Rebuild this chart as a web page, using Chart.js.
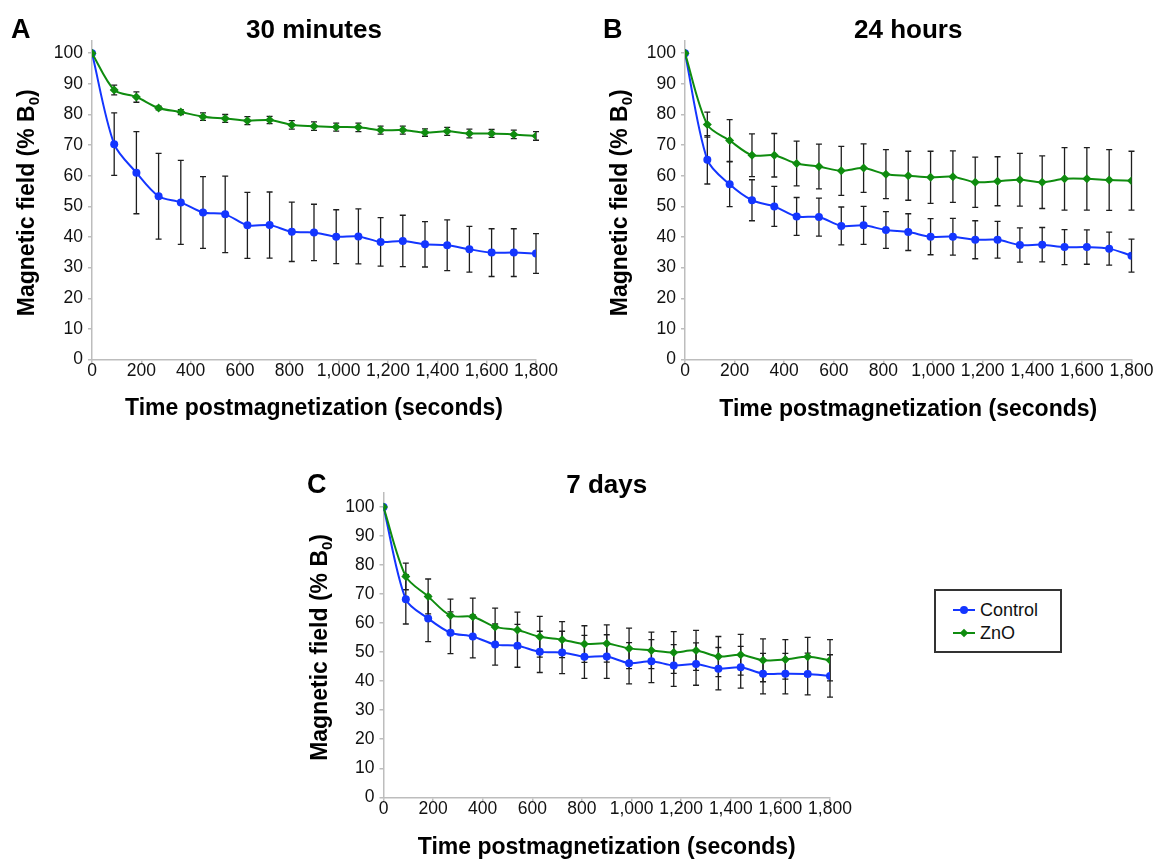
<!DOCTYPE html>
<html>
<head>
<meta charset="utf-8">
<script src="https://cdn.jsdelivr.net/npm/chart.js@4.4.1/dist/chart.umd.min.js"></script>
<style>
  html, body { margin: 0; padding: 0; background: #fff; }
  body { width: 1156px; height: 861px; position: relative; overflow: hidden; font-family: 'Liberation Sans', Arial, sans-serif; }
  canvas { position: absolute; }
  #legend { position: absolute; left: 934px; top: 589px; width: 128px; height: 64px; box-sizing: border-box; border: 2px solid #333; background: #fff; }
  .item { position: absolute; left: 0; height: 22px; width: 124px; }
  .item .ln { position: absolute; left: 17px; width: 22px; height: 2px; top: 10px; }
  .item .mk { position: absolute; }
  .item .tx { position: absolute; left: 44px; top: 0; font-size: 18px; line-height: 22px; color: #111; }
</style>
</head>
<body>
<canvas id="chartA" width="578" height="430" style="left:0px;top:0px;"></canvas>
<canvas id="chartB" width="578" height="430" style="left:578px;top:0px;"></canvas>
<canvas id="chartC" width="600" height="421" style="left:290px;top:440px;"></canvas>
<div id="legend">
  <div class="item" style="top:8px;">
    <span class="ln" style="background:#1436ff;"></span>
    <span class="mk" style="left:24px;top:7px;width:8px;height:8px;border-radius:50%;background:#1436ff;"></span>
    <span class="tx">Control</span>
  </div>
  <div class="item" style="top:31px;">
    <span class="ln" style="background:#0f8c0f;"></span>
    <span class="mk" style="left:25px;top:8px;width:6px;height:6px;transform:rotate(45deg);background:#0f8c0f;"></span>
    <span class="tx">ZnO</span>
  </div>
</div>
<script>
// ---------- data ----------
const times = [0, 90, 180, 270, 360, 450, 540, 630, 720, 810, 900, 990, 1080, 1170, 1260, 1350, 1440, 1530, 1620, 1710, 1800];
const xTickValues = [0, 200, 400, 600, 800, 1000, 1200, 1400, 1600, 1800];
const yTickValues = [0, 10, 20, 30, 40, 50, 60, 70, 80, 90, 100];
const seriesNames = ['Control', 'ZnO'];

// A: 30 minutes
const controlA    = [100, 70.3, 61.0, 53.3, 51.3, 48.0, 47.4, 43.8, 43.9, 41.7, 41.5, 40.1, 40.2, 38.4, 38.7, 37.6, 37.3, 36.0, 34.9, 34.9, 34.6];
const controlAErr = [0, 10.2, 13.4, 14.0, 13.7, 11.7, 12.5, 10.8, 10.8, 9.7, 9.2, 8.8, 9.0, 7.9, 8.4, 7.4, 8.3, 7.5, 7.8, 7.8, 6.5];
const znoA        = [100, 88.0, 85.7, 82.1, 80.8, 79.3, 78.7, 78.0, 78.2, 76.6, 76.2, 75.9, 75.8, 74.9, 74.9, 74.1, 74.5, 73.8, 73.8, 73.5, 73.0];
const znoAErr     = [0, 1.6, 1.7, 0.6, 0.8, 1.2, 1.3, 1.3, 1.2, 1.4, 1.4, 1.3, 1.4, 1.3, 1.3, 1.2, 1.3, 1.4, 1.3, 1.4, 1.4];

// B: 24 hours
const controlB    = [100, 65.2, 57.2, 52.0, 50.0, 46.7, 46.5, 43.6, 43.8, 42.3, 41.6, 40.1, 40.1, 39.1, 39.1, 37.4, 37.5, 36.7, 36.7, 36.2, 33.9];
const controlBErr = [0, 7.9, 7.3, 6.7, 6.5, 6.2, 6.2, 6.2, 6.2, 6.0, 6.0, 5.9, 6.0, 6.2, 6.0, 5.6, 5.6, 5.7, 5.6, 5.4, 5.4];
const znoB        = [100, 76.7, 71.5, 66.7, 66.7, 64.0, 63.0, 61.6, 62.5, 60.5, 60.0, 59.5, 59.7, 57.9, 58.2, 58.7, 57.9, 59.0, 59.0, 58.6, 58.4];
const znoBErr     = [0, 4.1, 6.8, 7.0, 7.1, 7.3, 7.3, 8.0, 7.9, 8.0, 8.0, 8.5, 8.4, 8.2, 8.0, 8.6, 8.6, 10.2, 10.2, 9.9, 9.6];

// C: 7 days
const controlC    = [100, 68.2, 61.6, 56.7, 55.4, 52.6, 52.2, 50.1, 49.9, 48.4, 48.5, 46.2, 46.9, 45.4, 45.9, 44.3, 44.8, 42.6, 42.6, 42.5, 41.8];
const controlCErr = [0, 8.5, 8.0, 7.2, 7.4, 7.1, 7.4, 7.1, 7.3, 7.4, 7.5, 7.1, 7.4, 7.2, 7.3, 7.3, 7.2, 7.0, 7.0, 7.2, 7.3];
const znoC        = [100, 76.1, 69.2, 62.6, 62.2, 58.7, 57.6, 55.3, 54.3, 52.8, 53.0, 51.3, 50.6, 49.9, 50.6, 48.5, 49.1, 47.2, 47.5, 48.4, 47.2];
const znoCErr     = [0, 4.6, 6.0, 5.7, 6.4, 6.5, 6.2, 7.0, 6.2, 6.3, 6.4, 7.0, 6.3, 7.2, 6.9, 6.9, 7.0, 7.4, 6.8, 6.7, 7.1];

// ---------- style ----------
const BLUE = '#1436ff';
const GREEN = '#0f8c0f';
const FONT = "'Liberation Sans', Arial, sans-serif";
const AXIS_COLOR = '#bdbdbd';

// error bar plugin (uses chart scales)
const errorBars = {
  id: 'errorBars',
  beforeDatasetsDraw(chart) {
    const ctx = chart.ctx, xs = chart.scales.x, ys = chart.scales.y;
    chart.data.datasets.forEach(ds => {
      if (!ds.errors) return;
      ctx.save();
      ctx.strokeStyle = '#1e1e1e';
      ctx.lineWidth = 1.3;
      ds.data.forEach((pt, i) => {
        const e = ds.errors[i];
        if (!e) return;
        const px = xs.getPixelForValue(pt.x);
        const top = ys.getPixelForValue(pt.y + e);
        const bot = ys.getPixelForValue(pt.y - e);
        ctx.beginPath();
        ctx.moveTo(px, top); ctx.lineTo(px, bot);
        ctx.moveTo(px - 3, top); ctx.lineTo(px + 3, top);
        ctx.moveTo(px - 3, bot); ctx.lineTo(px + 3, bot);
        ctx.stroke();
      });
      ctx.restore();
    });
  }
};

// panel texts plugin
const panelText = {
  id: 'panelText',
  afterDraw(chart, args, o) {
    const ctx = chart.ctx, ca = chart.chartArea;
    const cx = (ca.left + ca.right) / 2;
    ctx.save();
    ctx.fillStyle = '#000';
    ctx.textBaseline = 'alphabetic';
    // panel letter
    ctx.font = 'bold 27px ' + FONT;
    ctx.textAlign = 'left';
    ctx.fillText(o.letter, o.letterX, o.letterY);
    // title
    ctx.font = 'bold 26px ' + FONT;
    ctx.textAlign = 'center';
    ctx.fillText(o.title, cx, o.titleY);
    // x title
    ctx.font = 'bold 23px ' + FONT;
    ctx.fillText('Time postmagnetization (seconds)', cx, o.xTitleY);
    // y title with subscript
    const cy = (ca.top + 5 + ca.bottom) / 2;
    ctx.translate(o.yTitleX, cy);
    ctx.rotate(-Math.PI / 2);
    ctx.textAlign = 'left';
    const mainFont = 'bold 23px ' + FONT, subFont = 'bold 15px ' + FONT;
    ctx.font = mainFont;
    const p1 = 'Magnetic field (% B', p3 = ')';
    const w1 = ctx.measureText(p1).width, w3 = ctx.measureText(p3).width;
    ctx.font = subFont;
    const w2 = ctx.measureText('0').width;
    let x0 = -(w1 + w2 + w3) / 2;
    ctx.font = mainFont; ctx.fillText(p1, x0, 0);
    ctx.font = subFont; ctx.fillText('0', x0 + w1, 5);
    ctx.font = mainFont; ctx.fillText(p3, x0 + w1 + w2, 0);
    ctx.restore();
  }
};

function pts(vals) { return vals.map((v, i) => ({ x: times[i], y: v })); }

function makeChart(id, ctrl, ctrlErr, zno, znoErr, geo, text) {
  return new Chart(document.getElementById(id), {
    type: 'line',
    data: {
      datasets: [
        { label: seriesNames[0], data: pts(ctrl), errors: ctrlErr, borderColor: BLUE, backgroundColor: BLUE,
          borderWidth: 2, pointStyle: 'circle', pointRadius: 4, pointBorderWidth: 0, tension: 0.3, order: 1 },
        { label: seriesNames[1], data: pts(zno), errors: znoErr, borderColor: GREEN, backgroundColor: GREEN,
          borderWidth: 2, pointStyle: 'rectRot', pointRadius: 4.5, pointBorderWidth: 0, tension: 0.3, order: 0 }
      ]
    },
    options: {
      responsive: false,
      animation: false,
      layout: { padding: { left: 0, top: geo.top, right: geo.right, bottom: 0 } },
      plugins: { legend: { display: false }, title: { display: false }, tooltip: { enabled: false }, panelText: text },
      scales: {
        x: {
          type: 'linear', min: 0, max: 1800, offset: false,
          afterBuildTicks: s => { s.ticks = xTickValues.map(v => ({ value: v })); },
          afterFit: s => { s.height = geo.xh; },
          grid: { display: true, drawOnChartArea: false, drawTicks: true, tickLength: 4, color: AXIS_COLOR, lineWidth: 1.5 },
          border: { display: true, color: AXIS_COLOR, width: 1.5 },
          ticks: { autoSkip: false, maxRotation: 0, minRotation: 0, padding: -3, color: '#111',
                   font: { family: FONT, size: 17.5 },
                   callback: v => v.toLocaleString('en-US') }
        },
        y: {
          type: 'linear', min: 0, max: geo.ymax,
          afterBuildTicks: s => { s.ticks = yTickValues.map(v => ({ value: v })); },
          afterFit: s => { s.width = geo.yw; },
          grid: { display: true, drawOnChartArea: false, drawTicks: true, tickLength: 4, color: AXIS_COLOR, lineWidth: 1.5 },
          border: { display: true, color: AXIS_COLOR, width: 1.5 },
          ticks: { padding: 5, color: '#111', font: { family: FONT, size: 17.5 } }
        }
      }
    },
    plugins: [errorBars, panelText]
  });
}

makeChart('chartA', controlA, controlAErr, znoA, znoAErr,
  { top: 41, right: 42, xh: 70.5, yw: 92, ymax: 104 },
  { letter: 'A', letterX: 11, letterY: 38, title: '30 minutes', titleY: 38, xTitleY: 415, yTitleX: 34 });

makeChart('chartB', controlB, controlBErr, znoB, znoBErr,
  { top: 41, right: 24.5, xh: 70.5, yw: 107, ymax: 104 },
  { letter: 'B', letterX: 25, letterY: 38, title: '24 hours', titleY: 38, xTitleY: 416, yTitleX: 49 });

makeChart('chartC', controlC, controlCErr, znoC, znoCErr,
  { top: 52.5, right: 60, xh: 63.7, yw: 93.5, ymax: 105 },
  { letter: 'C', letterX: 17, letterY: 53, title: '7 days', titleY: 53, xTitleY: 414, yTitleX: 37 });
</script>
</body>
</html>
